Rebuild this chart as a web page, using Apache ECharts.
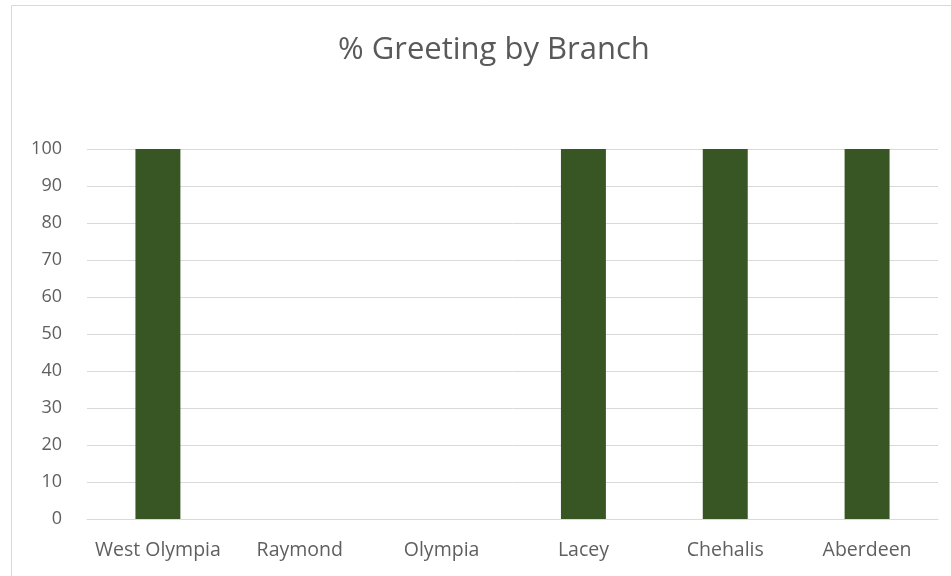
<!DOCTYPE html>
<html>
<head>
<meta charset="utf-8">
<script src="https://cdn.jsdelivr.net/npm/echarts@6/dist/echarts.min.js"></script>
<style>
  html, body { margin: 0; padding: 0; background: #ffffff; }
  #chart { width: 951px; height: 576px; }
</style>
</head>
<body>
<div id="chart"></div>
<script>
// Branch names along the category axis
const branches = ['West Olympia', 'Raymond', 'Olympia', 'Lacey', 'Chehalis', 'Aberdeen'];
// Percent of customers greeted at each branch
const greetingPct = [100, 0, 0, 100, 100, 100];
// Value axis range
const yMin = 0;
const yMax = 100;
const yStep = 10;

const chart = echarts.init(document.getElementById('chart'), null, { renderer: 'canvas' });
const labelFont = '"Open Sans", sans-serif';

chart.setOption({
  backgroundColor: '#ffffff',
  animation: false,
  graphic: [{
    type: 'rect',
    shape: { x: 11.5, y: 5.5, width: 960, height: 600 },
    style: { fill: 'none', stroke: '#d9d9d9', lineWidth: 1 },
    silent: true
  }],
  title: {
    text: '% Greeting by Branch',
    left: 333,
    top: 30,
    textStyle: { color: '#595959', fontSize: 31, fontWeight: 'normal', fontFamily: labelFont }
  },
  grid: { left: 87, right: 13, top: 149, bottom: 57, containLabel: false },
  xAxis: {
    type: 'category',
    data: branches,
    axisLine: { show: true, lineStyle: { color: '#d9d9d9', width: 1 } },
    axisTick: { show: false },
    axisLabel: { color: '#5f5f5f', fontSize: 19.5, margin: 21, interval: 0, fontFamily: labelFont }
  },
  yAxis: {
    type: 'value',
    min: yMin,
    max: yMax,
    interval: yStep,
    axisLine: { show: false },
    axisTick: { show: false },
    axisLabel: { color: '#5f5f5f', fontSize: 18, margin: 25, fontFamily: labelFont },
    splitLine: { lineStyle: { color: '#d9d9d9', width: 1 } }
  },
  series: [{
    type: 'bar',
    data: greetingPct,
    barWidth: '31.7%',
    itemStyle: { color: '#375623' }
  }]
});
</script>
</body>
</html>
